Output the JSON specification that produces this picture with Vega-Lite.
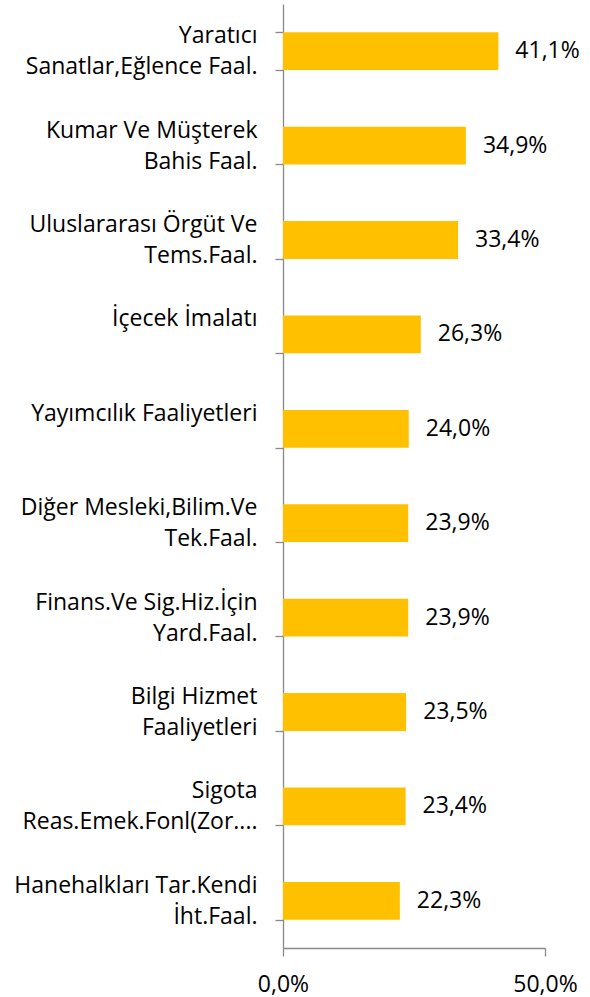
{
  "$schema": "https://vega.github.io/schema/vega-lite/v6.json",
  "width": 262,
  "height": 944,
  "autosize": {"type": "none"},
  "padding": {"left": 283, "top": 4, "right": 45, "bottom": 49},
  "background": "white",
  "data": {
    "values": [
      {"sector": "Yaratıcı|Sanatlar,Eğlence Faal.", "value": 0.411},
      {"sector": "Kumar Ve Müşterek|Bahis Faal.", "value": 0.349},
      {"sector": "Uluslararası Örgüt Ve|Tems.Faal.", "value": 0.334},
      {"sector": "İçecek İmalatı", "value": 0.263},
      {"sector": "Yayımcılık Faaliyetleri", "value": 0.240},
      {"sector": "Diğer Mesleki,Bilim.Ve|Tek.Faal.", "value": 0.239},
      {"sector": "Finans.Ve Sig.Hiz.İçin|Yard.Faal.", "value": 0.239},
      {"sector": "Bilgi Hizmet|Faaliyetleri", "value": 0.235},
      {"sector": "Sigota|Reas.Emek.Fonl(Zor....", "value": 0.234},
      {"sector": "Hanehalkları Tar.Kendi|İht.Faal.", "value": 0.223}
    ]
  },
  "encoding": {
    "y": {
      "field": "sector",
      "type": "nominal",
      "sort": null,
      "scale": {"paddingInner": 0.6, "paddingOuter": 0.3},
      "axis": {
        "title": null,
        "labelExpr": "split(datum.label, '|')",
        "labelFont": "Open Sans",
        "labelFontSize": 23,
        "labelColor": "black",
        "labelLineHeight": 31,
        "labelAlign": "right",
        "labelBaseline": "middle",
        "labelOffset": -15.5,
        "labelPadding": 18,
        "labelLimit": 300,
        "tickBand": "extent",
        "tickSize": 8,
        "tickColor": "#898989",
        "domainColor": "#898989",
        "tickWidth": 1.3,
        "domainWidth": 1.3
      }
    },
    "x": {
      "field": "value",
      "type": "quantitative",
      "scale": {"domain": [0, 0.5], "nice": false},
      "axis": {
        "title": null,
        "values": [0, 0.5],
        "format": ".1%",
        "grid": false,
        "labelFont": "Open Sans",
        "labelFontSize": 23,
        "labelColor": "black",
        "labelPadding": 17,
        "tickSize": 8,
        "tickColor": "#898989",
        "domainColor": "#898989",
        "tickWidth": 1.3,
        "domainWidth": 1.3,
        "labelFlush": false
      }
    }
  },
  "layer": [
    {"mark": {"type": "bar", "color": "#FFC000"}},
    {
      "mark": {"type": "text", "align": "left", "baseline": "middle", "dx": 17, "font": "Open Sans", "fontSize": 23, "color": "black"},
      "encoding": {"text": {"field": "value", "type": "quantitative", "format": ".1%"}}
    }
  ],
  "config": {
    "view": {"stroke": null},
    "locale": {"number": {"decimal": ",", "thousands": ".", "grouping": [3], "currency": ["", " TL"]}}
  }
}
